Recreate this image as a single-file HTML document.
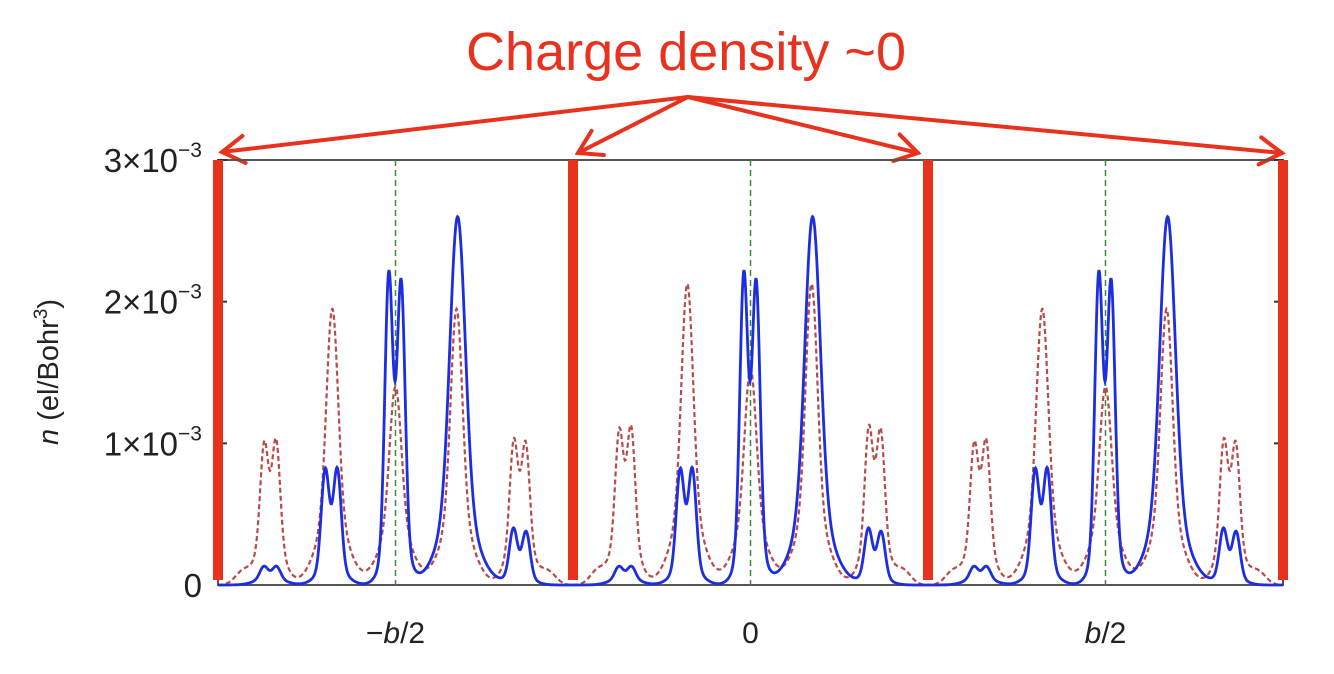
<!DOCTYPE html>
<html><head><meta charset="utf-8"><style>
html,body{margin:0;padding:0;background:#fff;}
svg{display:block;font-family:"Liberation Sans",sans-serif;}
</style></head><body>
<svg id="chart" width="1334" height="674" viewBox="0 0 1334 674" xmlns="http://www.w3.org/2000/svg">
<text x="686" y="70" text-anchor="middle" font-size="54" fill="#e8321e" textLength="440" lengthAdjust="spacingAndGlyphs">Charge density ~0</text>
<g id="arrows" stroke="#e8321e" stroke-width="4" fill="none" stroke-linecap="round"></g>
<g id="plot"></g>
<text transform="translate(58,372) rotate(-90)" text-anchor="middle" font-size="29" fill="#222"><tspan font-style="italic">n</tspan> (el/Bohr<tspan font-size="19" dy="-11">3</tspan><tspan dy="11">)</tspan></text>
</svg>
<script>
const cellIndex = [0, 1, 2];
const xTickLabels = ["\u2212b/2", "0", "b/2"];
const yTicks = [0, 1, 2, 3];
const yTickLabels = ["0", "1\u00d710", "2\u00d710", "3\u00d710"];
// peaks: offset (fraction of period from cell centre), height (1e-3 el/Bohr^3), width (fraction of period)
const bluePos = [-0.371,-0.335,-0.198,-0.164,-0.019,0.016,0.175,0.332,0.368,-0.18,0,0.175,0.35,-0.353];
const blueH   = [0.08,0.08,0.68,0.68,1.88,1.80,2.05,0.33,0.31,0.16,0.40,0.55,0.08,0.06];
const blueW   = [0.011,0.011,0.011,0.011,0.011,0.011,0.021,0.011,0.011,0.034,0.03,0.05,0.032,0.035];
const redPos  = [-0.370,-0.336,-0.353,-0.178,-0.178,0,0,0.172,0.172,0.333,0.367,0.35,-0.43,0.43];
const redH    = [0.66,0.68,0.40,1.45,0.50,0.95,0.45,1.45,0.50,0.68,0.66,0.40,0.09,0.09];
const redW    = [0.011,0.011,0.032,0.016,0.042,0.016,0.042,0.016,0.042,0.011,0.011,0.032,0.022,0.022];
const redCellScale = [1.0, 1.09, 1.0];

const X0 = 218, X1 = 1283, Y0 = 585, YTOP = 160;
const period = (X1 - X0) / 3;
const uToX = u => X0 + u * period;
const yScale = v => Y0 - v / 3 * (Y0 - YTOP);
const NS = "http://www.w3.org/2000/svg";
const plot = document.getElementById('plot');
function mk(tag, attrs, parent) {
  const e = document.createElementNS(NS, tag);
  for (const k in attrs) e.setAttribute(k, attrs[k]);
  (parent || plot).appendChild(e);
  return e;
}
function density(u, pos, h, w, scaleArr) {
  let s = 0;
  for (let c = -1; c <= 3; c++) {
    const cc = c + 0.5;
    const sc = scaleArr ? scaleArr[Math.max(0, Math.min(2, c))] : 1;
    for (let i = 0; i < pos.length; i++) {
      const d = u - (cc + pos[i]);
      s += sc * h[i] * Math.exp(-d*d/(2*w[i]*w[i]));
    }
  }
  return s;
}
const frame = mk('rect', {x:X0, y:YTOP, width:X1-X0, height:Y0-YTOP, fill:'none', stroke:'#555', 'stroke-width':2});


yTicks.forEach((t, i) => {
  const y = yScale(t);
  const l1 = mk('line', {x1:X0, x2:X0+9, y1:y, y2:y, stroke:'#333', 'stroke-width':2});
  
  
  const l2 = mk('line', {x1:X1, x2:X1-9, y1:y, y2:y, stroke:'#333', 'stroke-width':2});
  
  
  if (i < yTicks.length - 1) {
    const ym = yScale(t + 0.5);
    const m1 = mk('line', {x1:X0, x2:X0+5, y1:ym, y2:ym, stroke:'#333', 'stroke-width':2});
    
    
    const m2 = mk('line', {x1:X1, x2:X1-5, y1:ym, y2:ym, stroke:'#333', 'stroke-width':2});
    
    
  }
  const tx = mk('text', {x:202, y:y+12, 'text-anchor':'end', 'font-size':33, fill:'#222'});
  
  
  tx.textContent = yTickLabels[i];
  if (t !== 0) {
    const sup = mk('tspan', {'font-size':21, dy:-15}, tx);
    sup.textContent = '\u22123';
  }
});
function curvePath(pos, h, w, sc) {
  let d = '';
  for (let px = X0; px <= X1; px += 0.5) {
    const u = (px - X0) / period;
    const v = density(u, pos, h, w, sc);
    d += (d ? 'L' : 'M') + px.toFixed(1) + ',' + yScale(v).toFixed(1);
  }
  return d;
}
cellIndex.forEach((k, i) => {
  const x = uToX(k + 0.5);
  const g = mk('line', {x1:x, x2:x, y1:YTOP, y2:Y0, stroke:'#3a8a3a', 'stroke-width':1.5, 'stroke-dasharray':'6,4'});
  
  
  const lab = mk('text', {x:x, y:643, 'text-anchor':'middle', 'font-size':30, fill:'#222'});
  
  
  const s = xTickLabels[i];
  if (s.includes('b')) {
    const parts = s.split('b');
    const t1 = mk('tspan', {}, lab); t1.textContent = parts[0];
    const t2 = mk('tspan', {'font-style':'italic'}, lab); t2.textContent = 'b';
    const t3 = mk('tspan', {}, lab); t3.textContent = parts[1];
  } else lab.textContent = s;
});
const red = mk('path', {d:curvePath(redPos, redH, redW, redCellScale), fill:'none', stroke:'#b84a4a', 'stroke-width':2.2, 'stroke-dasharray':'5,3'});


const blue = mk('path', {d:curvePath(bluePos, blueH, blueW, null), fill:'none', stroke:'#1c2ee0', 'stroke-width':2.8});


[0, 1, 2, 3].forEach(k => {
  const x = uToX(k);
  const b = mk('rect', {x:x-5, y:YTOP, width:10, height:Y0-YTOP-5, fill:'#e8321e'});
  
  
});
const arrows = document.getElementById('arrows');
const apex = [688, 97];
const targets = [[222,152],[578,153],[918,153],[1282,153]];
targets.forEach(t => {
  const ln = mk('line', {x1:apex[0], y1:apex[1], x2:t[0], y2:t[1]}, arrows);
  
  
  const ang = Math.atan2(t[1]-apex[1], t[0]-apex[0]);
  const L = 26, a = 0.55;
  const p1 = [t[0] - L*Math.cos(ang - a), t[1] - L*Math.sin(ang - a)];
  const p2 = [t[0] - L*Math.cos(ang + a), t[1] - L*Math.sin(ang + a)];
  const hd = mk('polyline', {points:`${p1[0]},${p1[1]} ${t[0]},${t[1]} ${p2[0]},${p2[1]}`}, arrows);
  
  
});
</script>
</body></html>
